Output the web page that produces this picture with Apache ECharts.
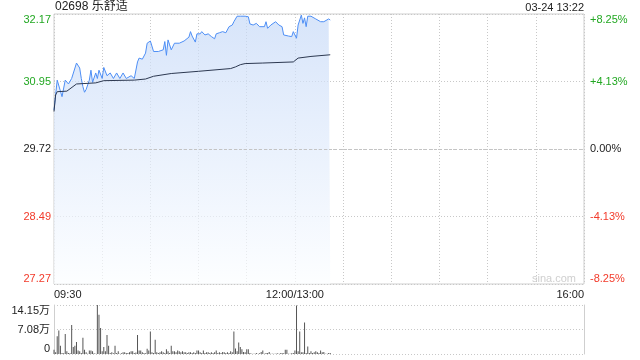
<!DOCTYPE html>
<html><head><meta charset="utf-8">
<script src="https://cdn.jsdelivr.net/npm/echarts@6/dist/echarts.min.js"></script>
<style>html,body{margin:0;padding:0;background:#fff}#c{width:640px;height:360px}</style>
</head><body><div id="c"></div>
<script>
const stockTitle = '02698 乐舒适';
const stamp = '03-24 13:22';
const watermark = 'sina.com';
const prevClose = 29.72;
const priceMin = 27.27;
const priceMax = 32.17;
const pctMax = 8.25;
const volMax = 14.15;
const tickMinutes = [0, 150, 330];
const tickLabels = ['09:30', '12:00/13:00', '16:00'];
const priceTicks = ['27.27', '28.49', '29.72', '30.95', '32.17'];
const pctTicks = ['-8.25%', '-4.13%', '0.00%', '+4.13%', '+8.25%'];
const volTicks = ['0', '7.08万', '14.15万'];

const priceMinutes = [0,2,3,5,7,9,11,14,15,16,17,18,19,20,22,23,24,26,27,28,30,31,33,35,37,39,41,43,45,48,50,52,53,55,57,58,60,61,62,65,68,69,70,71,72,73,75,78,81,84,85,86,88,89,91,92,94,96,98,100,101,103,105,107,109,111,112,114,116,119,121,122,124,126,128,131,132,133,135,138,140,142,143,146,148,149,151,152,154,155,156,157,158,160,163,166,168,169,171,172];
const prices = [30.43,30.97,31.00,30.67,30.97,30.90,31.00,31.28,31.30,31.19,31.00,30.85,30.75,30.80,30.97,31.15,30.93,31.10,31.00,31.15,31.00,31.20,31.05,31.10,31.00,31.10,31.00,31.10,31.00,31.05,31.00,31.30,31.37,31.35,31.46,31.64,31.68,31.66,31.49,31.49,31.52,31.67,31.42,31.70,31.61,31.52,31.64,31.64,31.68,31.75,31.85,31.77,31.66,31.81,31.81,31.85,31.79,31.81,31.76,31.72,31.81,31.83,31.85,31.83,31.94,31.97,32.03,32.13,32.13,32.13,32.12,31.99,31.97,32.00,31.94,31.94,32.03,31.91,31.97,32.03,31.97,31.94,31.79,31.77,31.76,31.85,31.73,31.97,32.15,32.00,32.10,31.94,32.13,32.13,32.08,32.03,32.03,32.00,32.08,32.06];

const avgMinutes = [0,1,2,8,14,26,31,50,57,62,73,90,110,113,116,119,130,149,152,160,172];
const avgPrices = [30.40,30.70,30.76,30.77,30.90,30.92,30.96,30.97,30.99,31.04,31.09,31.13,31.18,31.21,31.25,31.27,31.28,31.30,31.37,31.40,31.43];

// volume per minute (万股), minute 0..172
const volumes = [
1.2,0.5,5.1,6.8,2.4,0.3,0.2,5.8,0.8,0.3,
0.2,8.4,2.0,2.4,3.5,1.0,0.8,0.3,4.7,1.2,
0.5,0.1,1.0,1.0,0.8,0.2,0.1,14.15,11.3,7.5,
0.8,2.0,0.8,5.5,2.4,0.3,0.5,0.2,2.4,0.3,
0.8,0.1,0.2,0.5,0.5,0.3,0.3,0.5,0.8,0.8,
0.3,0.4,5.5,1.0,1.0,0.5,0.3,0.2,1.5,1.0,
6.5,0.5,0.3,4.1,0.5,0.3,0.5,0.8,0.5,0.3,
1.4,0.8,0.3,2.4,0.8,0.8,0.5,1.0,0.8,0.5,
0.8,0.5,0.5,0.3,0.5,0.5,0.3,0.5,0.3,1.0,
1.0,0.5,0.3,1.0,0.3,0.5,0.5,0.3,0.5,0.3,
0.5,1.0,0.3,0.5,0.3,0.6,0.5,0.3,0.5,0.3,
0.8,0.5,6.5,1.6,0.8,3.3,2.0,1.4,0.6,0.5,
1.4,1.4,0.3,0.1,0.1,0.1,0.3,0.1,0.2,0.6,
1.0,0.1,0.3,0.3,0.6,0.1,0.1,0.1,0.1,0.2,
0.1,0.2,0.3,0.2,1.2,1.2,0.1,0.1,0.2,0.3,
1.0,14.0,0.8,6.5,0.5,0.5,9.1,0.3,2.2,0.3,
0.8,0.3,0.5,0.8,0.5,0.3,1.0,0.5,0.6,0.1,
0.1,0.3,0.3];

const FONT = "'Liberation Sans', Arial, 'Noto Sans CJK SC', sans-serif";
const GREEN = '#22a822', RED = '#f23a2a', DARK = '#222';
const gridColor = '#cfcfcf';
const dotted = {color: '#c8c8c8', type: [1, 2], width: 1};

function pctIdx(v) { return Math.round((Number(v) + pctMax) / (pctMax / 2)); }
function pctColor(v) { const k = pctIdx(v); return k > 2 ? GREEN : (k < 2 ? RED : DARK); }

const chart = echarts.init(document.getElementById('c'), null, {renderer: 'canvas'});
chart.setOption({
  animation: false,
  textStyle: {fontFamily: FONT},
  graphic: [
    {type: 'text', left: 55, top: 1, style: {text: stockTitle, font: '12px ' + FONT, fill: '#222'}},
    {type: 'text', right: 56, top: 2, style: {text: stamp, font: '11px ' + FONT, fill: '#222'}},
    {type: 'text', left: 532, top: 273, style: {text: watermark, font: '11px ' + FONT, fill: '#cfcfcf'}}
  ],
  grid: [
    {left: 54, right: 56, top: 14, height: 270, show: true, borderColor: gridColor, borderWidth: 1, backgroundColor: 'transparent'},
    {left: 54, right: 56, top: 305, height: 49, show: false}
  ],
  xAxis: [
    {type: 'value', gridIndex: 0, min: 0, max: 330, interval: 30,
     axisLine: {show: false}, axisTick: {show: false},
     splitLine: {show: true, lineStyle: dotted},
     axisLabel: {show: true, margin: 5, fontSize: 11, color: '#222', fontFamily: FONT,
       alignMinLabel: 'left', alignMaxLabel: 'right',
       formatter: v => { const k = tickMinutes.indexOf(v); return k >= 0 ? tickLabels[k] : ''; }}},
    {type: 'value', gridIndex: 1, min: 0, max: 330, show: false,
     splitLine: {show: false}}
  ],
  yAxis: [
    {type: 'value', gridIndex: 0, min: priceMin, max: priceMax, show: false, splitLine: {show: false}},
    {type: 'value', gridIndex: 0, position: 'left', min: -pctMax, max: pctMax, interval: pctMax / 2,
     axisLine: {show: false}, axisTick: {show: false},
     splitLine: {show: true, lineStyle: dotted},
     axisLabel: {margin: 3, fontSize: 11, fontFamily: FONT,
       verticalAlignMinLabel: 'bottom', verticalAlignMaxLabel: 'top',
       color: v => pctColor(v),
       formatter: v => priceTicks[pctIdx(v)]}},
    {type: 'value', gridIndex: 0, position: 'right', min: -pctMax, max: pctMax, interval: pctMax / 2,
     axisLine: {show: false}, axisTick: {show: false}, splitLine: {show: false},
     axisLabel: {margin: 6, fontSize: 11, fontFamily: FONT,
       verticalAlignMinLabel: 'bottom', verticalAlignMaxLabel: 'top',
       color: v => pctColor(v),
       formatter: v => pctTicks[pctIdx(v)]}},
    {type: 'value', gridIndex: 1, position: 'left', min: 0, max: volMax, interval: volMax / 2,
     axisLine: {show: true, lineStyle: {color: gridColor}}, axisTick: {show: false},
     splitLine: {show: true, lineStyle: dotted},
     axisLabel: {margin: 4, fontSize: 11, color: '#222', fontFamily: FONT,
       verticalAlignMinLabel: 'bottom', verticalAlignMaxLabel: 'top',
       formatter: v => volTicks[Math.round(v / (volMax / 2))]}},
    {type: 'value', gridIndex: 1, position: 'right', min: 0, max: volMax, interval: volMax / 2,
     axisLine: {show: true, lineStyle: {color: gridColor}}, axisTick: {show: false},
     splitLine: {show: false}, axisLabel: {show: false}}
  ],
  series: [
    {type: 'line', xAxisIndex: 0, yAxisIndex: 0, showSymbol: false, silent: true,
     data: priceMinutes.map((m, i) => [m, prices[i]]),
     lineStyle: {color: '#4d8ef5', width: 1},
     areaStyle: {origin: 'start', color: new echarts.graphic.LinearGradient(0, 0, 0, 1, [
       {offset: 0, color: '#c6d9f7'}, {offset: 1, color: '#fbfdff'}])},
     markLine: {symbol: 'none', silent: true, label: {show: false},
       lineStyle: {color: '#c4c4c4', type: [3, 2], width: 1},
       data: [{yAxis: prevClose}]}},
    {type: 'line', xAxisIndex: 0, yAxisIndex: 0, showSymbol: false, silent: true,
     data: avgMinutes.map((m, i) => [m, avgPrices[i]]),
     lineStyle: {color: '#2c3850', width: 1}},
    {type: 'bar', xAxisIndex: 1, yAxisIndex: 3, silent: true, barWidth: 1,
     data: volumes.map((v, i) => [i, v]),
     itemStyle: {color: '#555'}}
  ]
});
</script>
</body></html>
